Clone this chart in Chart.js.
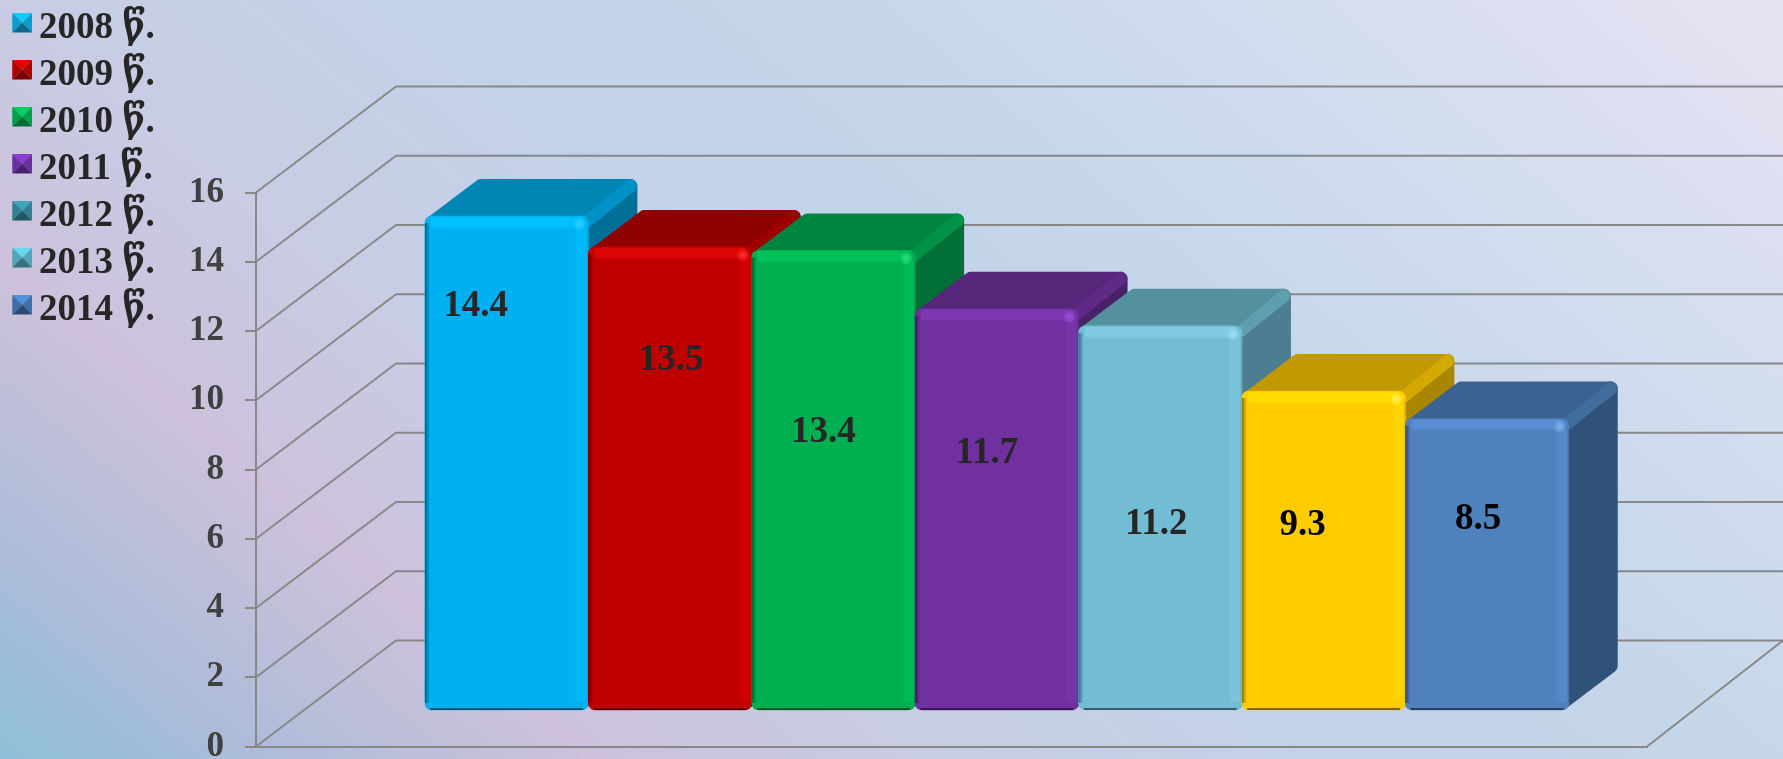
<!DOCTYPE html>
<html><head><meta charset="utf-8">
<style>
html,body{margin:0;padding:0;width:1783px;height:759px;overflow:hidden}
body{background:linear-gradient(40deg,#8ebfd8 0%,#aebcd8 10%,#cdc1dc 22%,#c8cce4 34%,#c3d2e9 50%,#c4d5ea 62%,#d2ddee 80%,#e7e2f3 100%)}
canvas{display:block}
</style>
<script src="https://cdn.jsdelivr.net/npm/chart.js@4/dist/chart.umd.min.js"></script>
</head><body>
<canvas id="c" width="1783" height="759"></canvas>
<script>
const seriesNames = ['2008 წ.','2009 წ.','2010 წ.','2011 წ.','2012 წ.','2013 წ.','2014 წ.'];
const seriesValues = [14.4,13.5,13.4,11.7,11.2,9.3,8.5];
const yTickStep = 2, yMin = 0, yMax = 16;

const barColors  = ['#00b0f0','#c00000','#00b050','#7030a0','#72bcd4','#ffcc00','#4f81bd'];
const topColors  = ['#0085b5','#900000','#008540','#55267a','#55909f','#c09a00','#3b6290'];
const sideColors = ['#006f98','#7a0000','#006f35','#4a2069','#4d7d90','#a88600','#30517a'];
const rimColors  = ['#00c0ff','#dc0606','#00c05a','#7e38b4','#80cbe2','#ffdc00','#5a8ed2'];
const softRimColors = ['#00b8f8','#cc0202','#00b855','#7734aa','#79c3db','#ffd400','#5588c8'];
const spotColors = ['#30d0ff','#ff3030','#30e080','#9a50d8','#a0e0f4','#fff060','#80b0f0'];
const legendColors = ['#0d9ccf','#b00000','#00a04a','#6a2fa0','#2f8090','#4fa6b8','#3f6fa8'];
const labelColors = ['#262626','#262626','#262626','#262626','#262626','#000000','#000000'];
const labelNudge = [[-31,90],[1,113],[-10,182],[-10,145],[-4,199],[-21,134],[-9,101]];

const SERIF = '"Liberation Serif","DejaVu Serif",serif';
const GRID = '#888888';
const WALL = {dx:140, dy:-106, rightDx:136, edge:1783};
const BAR = {dx:49, dy:-37, r:7, thickness:163.4};
const BAR_UNIT_MIN = -1.064, BAR_UNIT_MAX = 15.088;
const X_MIN = -1.534, X_MAX = 6.979;

function shade(hex,f){
  const n=parseInt(hex.slice(1),16);
  const c=[n>>16&255,n>>8&255,n&255].map(v=>Math.max(0,Math.min(255,Math.round(v*f))));
  return `rgb(${c[0]},${c[1]},${c[2]})`;
}
function marker(col){
  const cv=document.createElement('canvas');cv.width=34;cv.height=31;
  const g=cv.getContext('2d');const x0=14,s=20,cx=x0+s/2,cy=s/2;
  const tri=(a,b,c,f)=>{g.fillStyle=f;g.beginPath();g.moveTo(...a);g.lineTo(...b);g.lineTo(...c);g.closePath();g.fill();};
  tri([x0,0],[x0+s,0],[cx,cy],shade(col,1.3));
  tri([x0,0],[x0,s],[cx,cy],col);
  tri([x0+s,0],[x0+s,s],[cx,cy],col);
  tri([x0,s],[x0+s,s],[cx,cy],shade(col,.68));
  return cv;
}
const markers = legendColors.map(marker);

function poly(ctx,pts,fill,r){
  ctx.beginPath();pts.forEach((p,i)=>i?ctx.lineTo(p[0],p[1]):ctx.moveTo(p[0],p[1]));ctx.closePath();
  ctx.fillStyle=fill;ctx.fill();
  if(r){ctx.strokeStyle=fill;ctx.lineWidth=r;ctx.lineJoin='round';ctx.stroke();}
}

const wall3d = {
  id:'wall3d',
  afterLayout(chart){ const l=chart.legend; const h=l.height; l.top=-0.5; l.bottom=-0.5+h; },
  beforeDatasetsDraw(chart){
    const {ctx,chartArea:a,scales:{y}}=chart;
    ctx.save();ctx.strokeStyle=GRID;ctx.lineWidth=2;
    for(let t=yMin;t<=yMax;t+=yTickStep){
      const py=y.getPixelForValue(t);
      ctx.beginPath();ctx.moveTo(a.left,py);ctx.lineTo(a.left+WALL.dx,py+WALL.dy);ctx.lineTo(WALL.edge,py+WALL.dy);ctx.stroke();
    }
    const y0=y.getPixelForValue(0);
    ctx.beginPath();ctx.moveTo(a.right,y0);ctx.lineTo(a.right+WALL.rightDx,y0+WALL.dy);ctx.stroke();
    ctx.restore();
  },
  beforeDatasetDraw(chart,{meta,index}){
    const ctx=chart.ctx;ctx.save();
    const e=meta.data[index];
    const l=e.x-e.width/2,r=e.x+e.width/2,t=e.y,b=e.base,q=BAR.r,dx=BAR.dx,dy=BAR.dy;
    poly(ctx,[[r-q,t+q],[r+dx-q,t+dy+q],[r+dx-q,b+dy-q],[r-q,b-q]],sideColors[index],2*q);
    poly(ctx,[[l+q,t+q],[l+dx+q,t+dy+q],[r+dx-q,t+dy+q],[r-q,t+q]],topColors[index],2*q);
    ctx.lineCap='round';ctx.strokeStyle=shade(topColors[index],1.1);ctx.lineWidth=12;
    ctx.beginPath();ctx.moveTo(r-2,t+6);ctx.lineTo(r+dx-7,t+dy+7);ctx.stroke();
  },
  afterDatasetDraw(chart,{meta,index}){
    const ctx=chart.ctx;const e=meta.data[index];
    const l=e.x-e.width/2,r=e.x+e.width/2,t=e.y,b=e.base;
    let g=ctx.createLinearGradient(r-14,0,r,0);g.addColorStop(0,barColors[index]);g.addColorStop(.25,softRimColors[index]);g.addColorStop(.85,softRimColors[index]);g.addColorStop(1,shade(barColors[index],.85));
    ctx.fillStyle=g;ctx.fillRect(r-14,t+10,14,b-t-18);
    g=ctx.createLinearGradient(0,t,0,t+13);g.addColorStop(0,rimColors[index]);g.addColorStop(.75,rimColors[index]);g.addColorStop(1,barColors[index]);
    ctx.fillStyle=g;ctx.fillRect(l+6,t+1,e.width-12,12);
    g=ctx.createRadialGradient(r-9,t+8,0,r-9,t+8,7);g.addColorStop(0,spotColors[index]);g.addColorStop(1,rimColors[index]);
    ctx.fillStyle=g;ctx.beginPath();ctx.arc(r-9,t+8,6,0,Math.PI*2);ctx.fill();
    g=ctx.createLinearGradient(l,0,l+5,0);g.addColorStop(0,shade(barColors[index],.55));g.addColorStop(1,barColors[index]);
    ctx.fillStyle=g;ctx.fillRect(l,t+7,5,b-t-14);
    ctx.strokeStyle=shade(barColors[index],.5);ctx.lineWidth=2;
    ctx.beginPath();ctx.moveTo(l+6,b-1);ctx.lineTo(r-6,b-1);ctx.stroke();
    ctx.restore();
  },
  afterDatasetsDraw(chart){
    const ctx=chart.ctx;ctx.save();
    ctx.font='bold 37px '+SERIF;ctx.textAlign='center';ctx.textBaseline='middle';
    seriesValues.forEach((v,i)=>{
      const e=chart.getDatasetMeta(i).data[i];
      ctx.fillStyle=labelColors[i];
      ctx.fillText(v.toFixed(1),e.x+labelNudge[i][0],e.y+labelNudge[i][1]);
    });
    ctx.restore();
  }
};

new Chart(document.getElementById('c'),{
  type:'bar',
  data:{datasets:seriesNames.map((n,i)=>({
    label:n,
    data:seriesValues.map((v,j)=>({x:j,y:j===i?v:null})),
    backgroundColor:barColors[i],
    borderRadius:BAR.r,borderSkipped:false,borderWidth:0,
    order:seriesNames.length-i,yAxisID:'yBar',clip:false,grouped:false,
    barThickness:BAR.thickness
  }))},
  options:{
    responsive:false,animation:false,
    layout:{padding:{top:192.5,right:136,bottom:12.5,left:0}},
    plugins:{
      tooltip:{enabled:false},
      legend:{position:'left',align:'start',
        labels:{font:{family:SERIF,size:37,weight:'bold'},color:'#262626',
          usePointStyle:true,pointStyleWidth:10.5,boxHeight:20,padding:10,
          sort:(a,b)=>a.datasetIndex-b.datasetIndex,
          generateLabels(chart){
            return Chart.defaults.plugins.legend.labels.generateLabels(chart).map(it=>({...it,pointStyle:markers[it.datasetIndex],fontColor:'#262626'}));
          }}
      }
    },
    scales:{
      x:{type:'linear',min:X_MIN,max:X_MAX,offset:false,
        afterFit(s){s.height=0;s.paddingLeft=0;s.paddingRight=0;},
        grid:{display:false,drawTicks:false,offset:false},border:{color:GRID,width:2},ticks:{display:false}},
      y:{position:'left',min:yMin,max:yMax,
        afterFit(s){s.width=256-(s.chart.legend?s.chart.legend.width:0);s.paddingBottom=0;s.paddingTop=0;},
        grid:{drawOnChartArea:false,drawTicks:true,tickLength:11,color:GRID,lineWidth:2},
        border:{color:GRID,width:2},
        ticks:{stepSize:yTickStep,padding:21,color:'#404040',font:{family:SERIF,size:35,weight:'bold'}}},
      yBar:{display:false,position:'left',min:BAR_UNIT_MIN,max:BAR_UNIT_MAX}
    }
  },
  plugins:[wall3d]
});
</script>
</body></html>
